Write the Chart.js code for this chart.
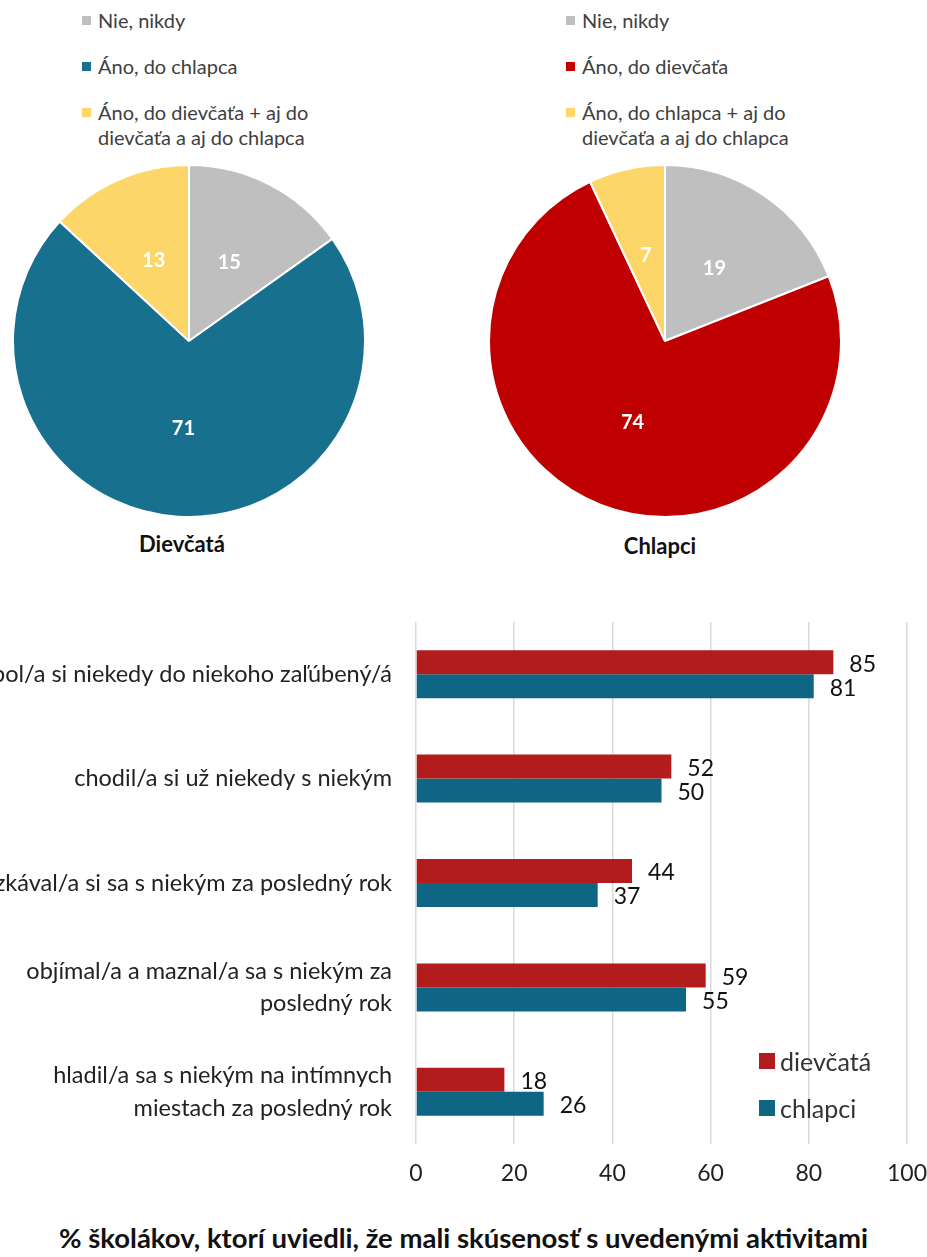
<!DOCTYPE html>
<html lang="sk">
<head>
<meta charset="utf-8">
<script src="https://cdn.jsdelivr.net/npm/chart.js@4/dist/chart.umd.min.js"></script>
<style>
  body { margin: 0; background: #fff; }
  #page { position: relative; width: 927px; height: 1257px; overflow: hidden; font-family: Lato, sans-serif; color: #404040; }
  canvas { position: absolute; }
  .legend { position: absolute; font-size: 20px; line-height: 25px; }
  .legend .row { position: absolute; left: 0; white-space: nowrap; }
  .legend .box { position: absolute; left: 0; top: 8px; width: 9px; height: 9px; }
  .legend .txt { position: absolute; left: 16px; top: 0; }
  .pieTitle { position: absolute; width: 300px; text-align: center; font-weight: bold; font-size: 22px; line-height: 26px; color: #111; }
  #barLegend { position: absolute; left: 759px; font-size: 25px; color: #333; }
  #barLegend .row { position: absolute; left: 0; white-space: nowrap; line-height: 30px; }
  #barLegend .box { position: absolute; left: 0; top: 7px; width: 16px; height: 16px; }
  #barLegend .txt { position: absolute; left: 21px; top: 0; }
  #mainTitle { position: absolute; left: 0; width: 927px; top: 1221px; line-height: 34px; text-align: center; font-weight: bold; font-size: 27.5px; color: #111; }
</style>
</head>
<body>
<div id="page">
  <div class="legend" id="legendGirls" style="left:82px; top:8px"></div>
  <div class="legend" id="legendBoys" style="left:566px; top:8px"></div>

  <canvas id="pieGirls" width="354" height="354" style="left:12px; top:164px"></canvas>
  <canvas id="pieBoys" width="354" height="354" style="left:488px; top:164px"></canvas>

  <div class="pieTitle" style="left:32px; top:531px">Dievčatá</div>
  <div class="pieTitle" style="left:510px; top:533px">Chlapci</div>

  <canvas id="barChart" width="927" height="600" style="left:0; top:600px"></canvas>
  <div id="barLegend" style="top:1046px"></div>

  <div id="mainTitle">% školákov, ktorí uviedli, že mali skúsenosť s uvedenými aktivitami</div>
</div>

<script>
// pie: girls
const girlsLabels = ['Nie, nikdy', 'Áno, do chlapca', ['Áno, do dievčaťa + aj do', 'dievčaťa a aj do chlapca']];
const girlsValues = [15, 71, 13];
// pie: boys
const boysLabels = ['Nie, nikdy', 'Áno, do dievčaťa', ['Áno, do chlapca + aj do', 'dievčaťa a aj do chlapca']];
const boysValues = [19, 74, 7];

// bars
const activities = [
  'bol/a si niekedy do niekoho zaľúbený/á',
  'chodil/a si už niekedy s niekým',
  'bozkával/a si sa s niekým za posledný rok',
  ['objímal/a a maznal/a sa s niekým za', 'posledný rok'],
  ['hladil/a sa s niekým na intímnych', 'miestach za posledný rok']
];
const girlsPct = [85, 52, 44, 59, 18];
const boysPct = [81, 50, 37, 55, 26];
const xTicks = [0, 20, 40, 60, 80, 100];

const GRAY = '#BFBFBF';
const YELLOW = '#FDD66A';
const PIE_BLUE = '#18708F';
const PIE_RED = '#C00000';
const BAR_RED = '#B21C1C';
const BAR_BLUE = '#0E6584';

const FONT = 'Lato, sans-serif';

function buildLegend(el, labels, colors, pitch) {
  labels.forEach((label, i) => {
    const lines = Array.isArray(label) ? label : [label];
    const row = document.createElement('div');
    row.className = 'row';
    row.style.top = (i * pitch) + 'px';
    const box = document.createElement('span');
    box.className = 'box';
    box.style.background = colors[i];
    const txt = document.createElement('span');
    txt.className = 'txt';
    txt.innerHTML = lines.join('<br>');
    row.appendChild(box);
    row.appendChild(txt);
    el.appendChild(row);
  });
}

buildLegend(document.getElementById('legendGirls'), girlsLabels, [GRAY, PIE_BLUE, YELLOW], 46);
buildLegend(document.getElementById('legendBoys'), boysLabels, [GRAY, PIE_RED, YELLOW], 46);
buildLegend(document.getElementById('barLegend'), ['dievčatá', 'chlapci'], [BAR_RED, BAR_BLUE], 47);

// white numbers in the middle of each slice
const sliceValues = {
  id: 'sliceValues',
  afterDatasetsDraw(chart) {
    const ctx = chart.ctx;
    const ds = chart.data.datasets[0];
    ctx.save();
    ctx.font = 'bold 20px ' + FONT;
    ctx.fillStyle = '#fff';
    ctx.textAlign = 'center';
    ctx.textBaseline = 'middle';
    chart.getDatasetMeta(0).data.forEach((arc, i) => {
      const p = arc.tooltipPosition();
      ctx.fillText(ds.data[i], p.x, p.y);
    });
    ctx.restore();
  }
};

function makePie(id, labels, values, colors) {
  new Chart(document.getElementById(id), {
    type: 'pie',
    data: {
      labels: labels.map(l => Array.isArray(l) ? l.join(' ') : l),
      datasets: [{
        data: values,
        backgroundColor: colors,
        borderColor: '#fff',
        borderWidth: 2,
        hoverOffset: 0
      }]
    },
    options: {
      responsive: false,
      animation: false,
      layout: { padding: 0 },
      plugins: {
        legend: { display: false },
        tooltip: { enabled: false }
      }
    },
    plugins: [sliceValues]
  });
}

makePie('pieGirls', girlsLabels, girlsValues, [GRAY, PIE_BLUE, YELLOW]);
makePie('pieBoys', boysLabels, boysValues, [GRAY, PIE_RED, YELLOW]);

// numbers to the right of each bar
const barValues = {
  id: 'barValues',
  afterDatasetsDraw(chart) {
    const ctx = chart.ctx;
    ctx.save();
    ctx.font = '23px ' + FONT;
    ctx.fillStyle = '#111';
    ctx.textAlign = 'left';
    ctx.textBaseline = 'middle';
    chart.data.datasets.forEach((ds, di) => {
      chart.getDatasetMeta(di).data.forEach((bar, i) => {
        ctx.fillText(ds.data[i], bar.x + 16, bar.y + 2);
      });
    });
    ctx.restore();
  }
};

new Chart(document.getElementById('barChart'), {
  type: 'bar',
  data: {
    labels: activities,
    datasets: [
      { label: 'dievčatá', data: girlsPct, backgroundColor: BAR_RED },
      { label: 'chlapci', data: boysPct, backgroundColor: BAR_BLUE }
    ]
  },
  options: {
    indexAxis: 'y',
    responsive: false,
    animation: false,
    categoryPercentage: 0.46,
    barPercentage: 1,
    layout: { padding: { top: 22, right: 20, left: 0, bottom: 0 } },
    plugins: {
      legend: { display: false },
      tooltip: { enabled: false }
    },
    scales: {
      x: {
        min: 0,
        max: 100,
        afterBuildTicks(scale) { scale.ticks = xTicks.map(v => ({ value: v })); },
        ticks: { padding: 16, color: '#222', font: { family: FONT, size: 23 } },
        grid: { color: '#D9D9D9', lineWidth: 1.5, drawTicks: false },
        border: { display: false },
        afterFit(scale) { scale.height = 56; scale.paddingLeft = 0; scale.paddingRight = 0; }
      },
      y: {
        ticks: { padding: 16, color: '#222', font: { family: FONT, size: 23.5, lineHeight: 1.4 } },
        grid: { display: false },
        border: { display: false },
        afterFit(scale) { scale.width = 416; scale.paddingTop = 0; scale.paddingBottom = 0; }
      }
    }
  },
  plugins: [barValues]
});
</script>
</body>
</html>
